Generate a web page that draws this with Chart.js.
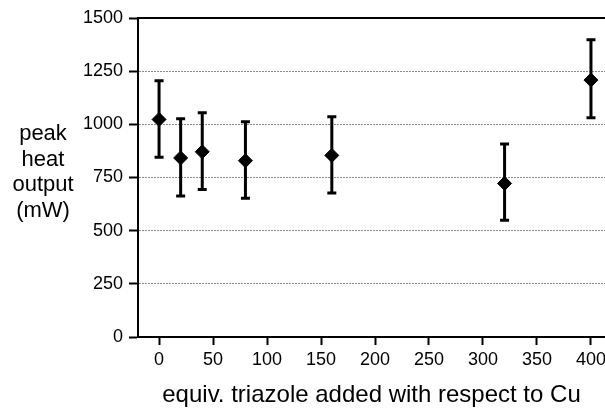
<!DOCTYPE html>
<html>
<head>
<meta charset="utf-8">
<script src="https://cdn.jsdelivr.net/npm/chart.js@4/dist/chart.umd.min.js"></script>
<style>
  html, body { margin: 0; padding: 0; background: #fff; overflow: hidden; }
  #wrap { position: relative; width: 605px; height: 408px; }
  #ylabel {
    position: absolute; left: 0px; top: 120px; width: 86px;
    font-family: "Liberation Sans", Arial, sans-serif; font-size: 22px;
    line-height: 25.5px; text-align: center; color: #000;
  }
</style>
</head>
<body>
<div id="wrap">
  <canvas id="chart" width="605" height="408"></canvas>
  <div id="ylabel">peak<br>heat<br>output<br>(mW)</div>
</div>
<script>
const equiv = [0, 20, 40, 80, 160, 320, 400];
const heatOutput = [1023, 842, 871, 829, 854, 722, 1208];
const errHigh = [1205, 1026, 1055, 1012, 1036, 907, 1398];
const errLow = [845, 663, 694, 652, 677, 549, 1031];
const xTicks = [0, 50, 100, 150, 200, 250, 300, 350, 400];
const yTicks = [0, 250, 500, 750, 1000, 1250, 1500];

const FONT = "'Liberation Sans', Arial, sans-serif";

// vertical error bars with caps, drawn under the markers
const errorBars = {
  id: "errorBars",
  beforeDatasetsDraw(chart) {
    const { ctx, scales } = chart;
    ctx.save();
    ctx.strokeStyle = "#000";
    ctx.lineWidth = 3;
    equiv.forEach((xv, i) => {
      const x = scales.x.getPixelForValue(xv);
      const yTop = scales.y.getPixelForValue(errHigh[i]);
      const yBot = scales.y.getPixelForValue(errLow[i]);
      ctx.beginPath();
      ctx.moveTo(x, yTop);
      ctx.lineTo(x, yBot);
      ctx.moveTo(x - 4.5, yTop);
      ctx.lineTo(x + 4.5, yTop);
      ctx.moveTo(x - 4.5, yBot);
      ctx.lineTo(x + 4.5, yBot);
      ctx.stroke();
    });
    ctx.restore();
  },
};

// solid frame line along the top of the plot
const topLine = {
  id: "topLine",
  afterDraw(chart) {
    const { ctx, chartArea } = chart;
    ctx.save();
    ctx.strokeStyle = "#000";
    ctx.lineWidth = 2;
    ctx.beginPath();
    ctx.moveTo(chartArea.left - 1, chartArea.top);
    ctx.lineTo(chartArea.right, chartArea.top);
    ctx.stroke();
    ctx.restore();
  },
};

new Chart(document.getElementById("chart"), {
  type: "scatter",
  data: {
    datasets: [
      {
        data: equiv.map((x, i) => ({ x: x, y: heatOutput[i] })),
        pointStyle: "rectRot",
        pointRadius: 7,
        pointHoverRadius: 7,
        backgroundColor: "#000",
        borderColor: "#000",
        borderWidth: 1,
        showLine: false,
        clip: false,
      },
    ],
  },
  options: {
    responsive: false,
    animation: false,
    events: [],
    layout: { autoPadding: false, padding: { top: 18, right: 0, left: 0, bottom: 0 } },
    plugins: { legend: { display: false }, tooltip: { enabled: false } },
    scales: {
      x: {
        type: "linear",
        min: -19.5,
        max: 413,
        afterBuildTicks: (scale) => {
          scale.ticks = xTicks.map((v) => ({ value: v }));
        },
        afterFit: (scale) => {
          scale.height = 71;
          scale.paddingLeft = 0;
          scale.paddingRight = 0;
        },
        grid: {
          drawOnChartArea: false,
          drawTicks: true,
          tickLength: 8,
          tickColor: "#000",
          tickWidth: 2,
        },
        border: { color: "#000", width: 2 },
        ticks: {
          color: "#000",
          padding: 4,
          maxRotation: 0,
          font: { family: FONT, size: 18 },
          callback: (v) => String(v),
        },
        title: {
          display: true,
          text: "equiv. triazole added with respect to Cu",
          color: "#000",
          font: { family: FONT, size: 24, lineHeight: 1 },
          padding: { top: 0, bottom: 1 },
        },
      },
      y: {
        min: 0,
        max: 1500,
        afterBuildTicks: (scale) => {
          scale.ticks = yTicks.map((v) => ({ value: v }));
        },
        afterFit: (scale) => {
          scale.width = 138;
          scale.paddingTop = 0;
          scale.paddingBottom = 0;
        },
        grid: {
          color: (c) =>
            c.tick && (c.tick.value === 0 || c.tick.value === 1500)
              ? "rgba(0,0,0,0)"
              : "#8a8a8a",
          lineWidth: 1,
          tickLength: 9,
          tickColor: "#000",
          tickWidth: 2,
        },
        border: { color: "#000", width: 2, dash: [2, 1] },
        ticks: {
          color: "#000",
          padding: 6,
          font: { family: FONT, size: 18 },
          callback: (v) => String(v),
        },
      },
    },
  },
  plugins: [errorBars, topLine],
});
</script>
</body>
</html>
